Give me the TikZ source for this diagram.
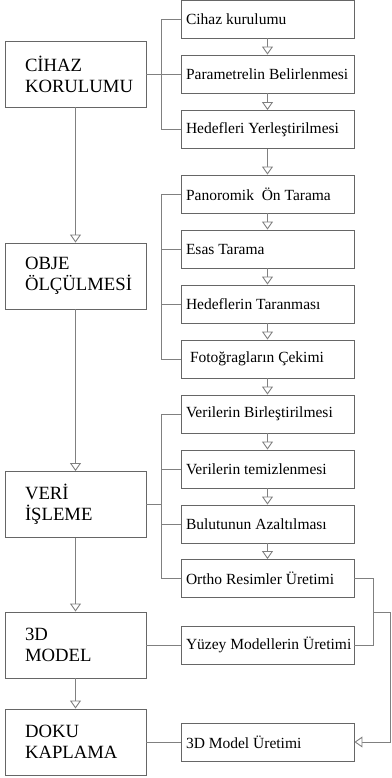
\documentclass[tikz,border=0pt]{standalone}
\usepackage{fontspec}
\setmainfont{Liberation Serif}
\usetikzlibrary{arrows.meta}

\definecolor{linegray}{gray}{0.5}
\definecolor{boxgray}{gray}{0.4}

\newcommand{\steptext}[1]{\makebox[163pt][l]{#1}}

\tikzset{
  mainbox/.style={draw=boxgray, line width=0.9pt, minimum width=141, minimum height=66,
    text width=101, inner xsep=20, align=left, font=\fontsize{18.7}{21}\selectfont},
  stepbox/.style={draw=boxgray, line width=0.9pt, minimum width=173, minimum height=38,
    inner xsep=5, font=\fontsize{15.5}{18}\selectfont},
  link/.style={draw=linegray, line width=0.9pt},
  flow/.style={link, -{Triangle[open, width=11pt, length=8pt, fill=white]}}
}

\begin{document}
\begin{tikzpicture}[x=1pt,y=-1pt]

\useasboundingbox (0,0) rectangle (391,778);

% main stages
\node[mainbox] (b1) at (75.5,74) {CİHAZ\\KORULUMU};
\node[mainbox] (b2) at (75.5,276) {OBJE\\ÖLÇÜLMESİ};
\node[mainbox] (b3) at (75.5,504.5) {VERİ\\İŞLEME};
\node[mainbox] (b4) at (75.5,645) {3D\\MODEL};
\node[mainbox] (b5) at (75.5,742) {DOKU\\KAPLAMA};

% sub steps
\node[stepbox] (r1) at (267.5,19) {\steptext{Cihaz kurulumu}};
\node[stepbox] (r2) at (267.5,74) {\steptext{Parametrelin Belirlenmesi}};
\node[stepbox] (r3) at (267.5,129.5) {\steptext{Hedefleri Yerleştirilmesi}};
\node[stepbox] (r4) at (267.5,194) {\steptext{Panoromik\ \ Ön Tarama}};
\node[stepbox] (r5) at (267.5,249) {\steptext{Esas Tarama}};
\node[stepbox] (r6) at (267.5,304) {\steptext{Hedeflerin Taranması}};
\node[stepbox] (r7) at (267.5,359) {\steptext{\hspace{4pt}Fotoğragların Çekimi}};
\node[stepbox] (r8) at (267.5,414) {\steptext{Verilerin Birleştirilmesi}};
\node[stepbox] (r9) at (267.5,469) {\steptext{Verilerin temizlenmesi}};
\node[stepbox] (r10) at (267.5,524) {\steptext{Bulutunun Azaltılması}};
\node[stepbox] (r11) at (267.5,578.5) {\steptext{Ortho Resimler Üretimi}};
\node[stepbox] (r12) at (267.5,645) {\steptext{Yüzey Modellerin Üretimi}};
\node[stepbox] (r13) at (267.5,742) {\steptext{3D Model Üretimi}};

% main flow
\draw[flow] (b1) -- (b2);
\draw[flow] (b2) -- (b3);
\draw[flow] (b3) -- (b4);
\draw[flow] (b4) -- (b5);

% step flow
\draw[flow] (r1) -- (r2);
\draw[flow] (r2) -- (r3);
\draw[flow] (r3) -- (r4);
\draw[flow] (r4) -- (r5);
\draw[flow] (r5) -- (r6);
\draw[flow] (r6) -- (r7);
\draw[flow] (r7) -- (r8);
\draw[flow] (r8) -- (r9);
\draw[flow] (r9) -- (r10);
\draw[flow] (r10) -- (r11);

% brackets
\draw[link] (r1.west) -- ++(-19,0) |- (r3.west);
\draw[link] (b1.east) -- (r2.west);

\draw[link] (r4.west) -- ++(-19,0) |- (r7.west);
\draw[link] (r5.west) -- ++(-19,0);
\draw[link] (r6.west) -- ++(-19,0);

\draw[link] (r8.west) -- ++(-19,0) |- (r11.west);
\draw[link] (r9.west) -- ++(-19,0);
\draw[link] (r10.west) -- ++(-19,0);
\draw[link] (b3.east) -- ++(16,0);

\draw[link] (b4.east) -- (r12.west);
\draw[link] (b5.east) -- (r13.west);

% right side loop
\coordinate (join) at (373,612);
\coordinate (edge) at (390,612);
\draw[link] (r11.east) -- ++(19,0) |- (r12.east);
\draw[flow] (join) -- (edge) |- (r13.east);

\end{tikzpicture}
\end{document}
